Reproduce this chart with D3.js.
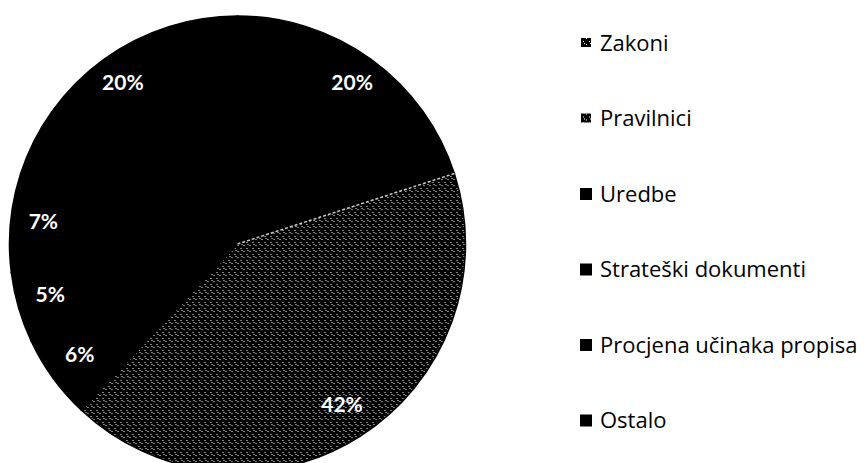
<!DOCTYPE html>
<html>
<head>
<meta charset="utf-8">
<script src="https://cdn.jsdelivr.net/npm/d3@7"></script>
<style>
    body { margin: 0; background: #fff; }
    svg { display: block; }
</style>
</head>
<body>
<svg id="chart" width="866" height="463"></svg>
<script>
var categories = ["Zakoni", "Pravilnici", "Uredbe", "Strateški dokumenti", "Procjena učinaka propisa", "Ostalo"];
var shares = [20, 42, 6, 5, 7, 20];
var labels = ["20%", "42%", "6%", "5%", "7%", "20%"];

function drawPie(destination)
{
    var svg = d3.select(destination),
        cx = 237.5,
        cy = 244,
        radius = 228,
        labelRadius = 195;

    // speckled fill for the scanned grey slice
    var defs = svg.append("defs");
    var pat = defs.append("pattern")
        .attr("id", "speckle")
        .attr("width", 6)
        .attr("height", 6)
        .attr("patternUnits", "userSpaceOnUse");
    pat.append("rect").attr("width", 6).attr("height", 6).attr("fill", "#000");
    [[0, 1], [3, 4], [4, 0]].forEach(function(p) {
        pat.append("rect")
            .attr("x", p[0]).attr("y", p[1])
            .attr("width", 1).attr("height", 1)
            .attr("fill", "#fff");
    });

    var color = d3.scaleOrdinal()
        .domain(categories)
        .range(["#000", "url(#speckle)", "#000", "#000", "#000", "#000"]);

    var pie = d3.pie()
        .sort(null)
        .value(function(d) { return d; });

    var arcs = pie(shares);

    var arc = d3.arc()
        .innerRadius(0)
        .outerRadius(radius);

    var labelArc = d3.arc()
        .innerRadius(labelRadius)
        .outerRadius(labelRadius);

    var g = svg.append("g")
        .attr("transform", "translate(" + cx + "," + cy + ")");

    g.selectAll("path.slice")
        .data(arcs)
        .enter().append("path")
        .attr("class", "slice")
        .attr("d", arc)
        .style("fill", function(d, i) { return color(categories[i]); })
        .style("stroke", "#000")
        .style("stroke-width", 1.5);

    // faint white edge between Zakoni and Pravilnici
    var edge = arcs[1].startAngle;
    g.append("line")
        .attr("x1", 0).attr("y1", 0)
        .attr("x2", Math.sin(edge) * radius)
        .attr("y2", -Math.cos(edge) * radius)
        .style("stroke", "#fff")
        .style("stroke-width", 1.5)
        .style("stroke-dasharray", "3,2")
        .style("opacity", 0.8);

    g.selectAll("text.pct")
        .data(arcs)
        .enter().append("text")
        .attr("class", "pct")
        .attr("transform", function(d) { return "translate(" + labelArc.centroid(d) + ")"; })
        .attr("dy", "0.18em")
        .style("text-anchor", "middle")
        .style("font-family", "Lato, 'Open Sans', sans-serif")
        .style("font-weight", "bold")
        .style("font-size", "21px")
        .style("fill", "#fff")
        .text(function(d, i) { return labels[i]; });

    // legend
    var legend = svg.append("g")
        .attr("transform", "translate(580,43)");

    var y = d3.scalePoint()
        .domain(categories)
        .range([0, 377.5]);

    var item = legend.selectAll("g")
        .data(categories)
        .enter().append("g")
        .attr("transform", function(d) { return "translate(0," + y(d) + ")"; });

    item.append("rect")
        .attr("x", function(d, i) { return i < 2 ? 1 : 0; })
        .attr("y", function(d, i) { return i < 2 ? -5 : -6; })
        .attr("width", function(d, i) { return i < 2 ? 10 : 12; })
        .attr("height", function(d, i) { return i < 2 ? 9 : 12; })
        .style("fill", function(d, i) { return i < 2 ? "url(#speckle)" : "#000"; });

    item.append("text")
        .attr("x", 20)
        .attr("dy", "0.35em")
        .style("font-family", "'Open Sans', sans-serif")
        .style("font-size", "22px")
        .style("fill", "#000")
        .text(function(d) { return d; });
}

drawPie("#chart");
</script>
</body>
</html>
